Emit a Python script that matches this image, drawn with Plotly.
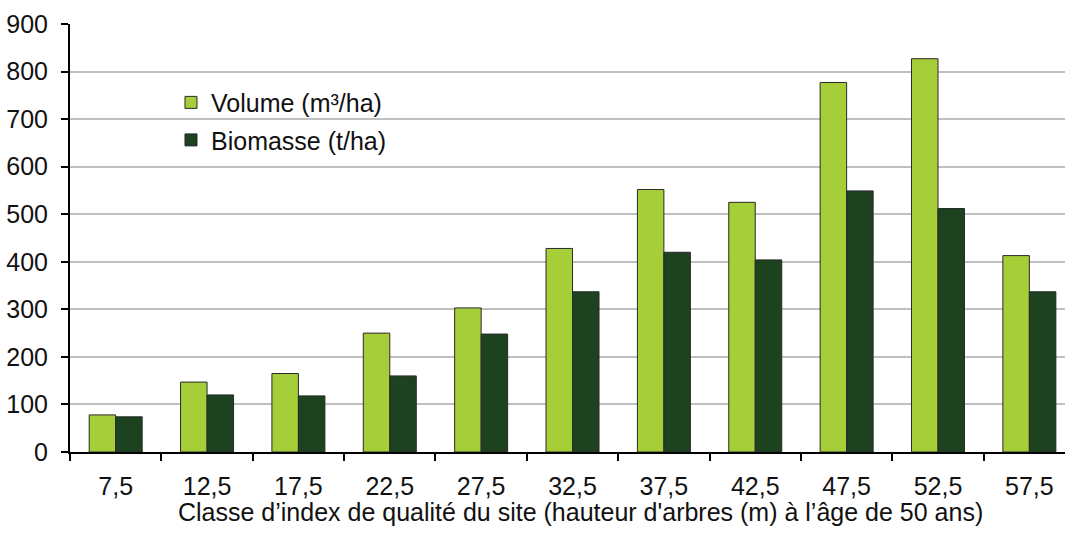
import plotly.graph_objects as go

categories = ["7,5", "12,5", "17,5", "22,5", "27,5", "32,5", "37,5", "42,5", "47,5", "52,5", "57,5"]
volume = [78, 147, 165, 250, 303, 428, 552, 525, 777, 827, 413]
biomasse = [74, 120, 118, 160, 248, 337, 420, 404, 549, 512, 337]
x_title = "Classe d’index de qualité du site (hauteur d'arbres (m) à l’âge de 50 ans)"

FONT = "Liberation Sans, Arial, Helvetica, sans-serif"
FS = 25

fig = go.Figure()
fig.add_trace(go.Bar(x=categories, y=volume, name="Volume (m³/ha)", legendgroup="a",
                     marker=dict(color="#a6ce39", line=dict(color="#2a2a2a", width=1))))
fig.add_trace(go.Bar(x=categories, y=biomasse, name="Biomasse (t/ha)", legendgroup="b",
                     marker=dict(color="#1d4220", line=dict(color="#2a2a2a", width=1))))

fig.update_layout(
    width=1065, height=537,
    margin=dict(l=70, r=0, t=24, b=85),
    paper_bgcolor="white", plot_bgcolor="white",
    barmode="group", bargap=0.42, bargroupgap=0,
    font=dict(family=FONT, size=FS, color="#111"),
    showlegend=True,
    legend=dict(x=0.1015, y=0.87, xanchor="left", yanchor="top",
                bgcolor="rgba(0,0,0,0)", font=dict(size=FS),
                traceorder="grouped", tracegroupgap=2),
    xaxis=dict(type="category", range=[-0.5, 10.39],
               showline=True, linecolor="black", linewidth=2,
               ticks="outside", tickson="boundaries", ticklen=7, tickwidth=2, tickcolor="black",
               showgrid=False, ticklabelstandoff=11,
               tickfont=dict(size=FS)),
    yaxis=dict(range=[0, 900], dtick=100,
               showline=True, linecolor="black", linewidth=2,
               ticks="outside", ticklen=7, tickwidth=2, tickcolor="black",
               showgrid=True, gridcolor="#c0c0c0", gridwidth=1.5,
               zeroline=False, tickfont=dict(size=FS), ticklabelstandoff=8),
    annotations=[dict(text=x_title, xref="paper", yref="paper", x=0.5126, y=-0.140,
                      xanchor="center", yanchor="middle", showarrow=False,
                      font=dict(size=FS, family=FONT, color="#111"))],
)

fig.write_html("out.html", config={"displayModeBar": False},
               post_script="document.body.style.margin='0';document.body.style.overflow='hidden';")
